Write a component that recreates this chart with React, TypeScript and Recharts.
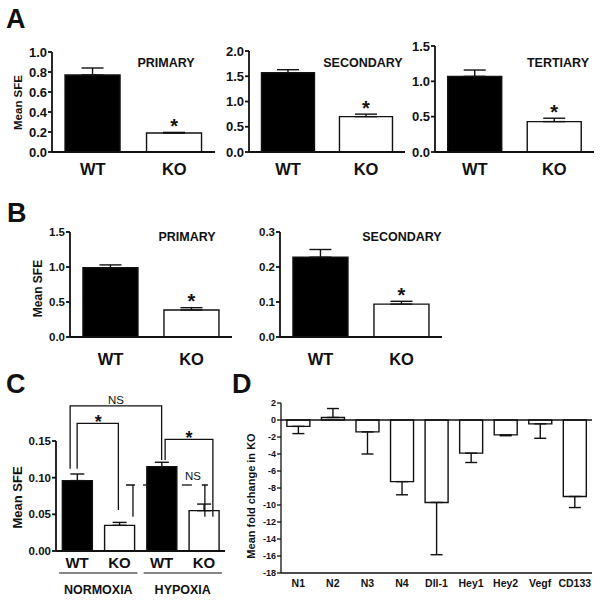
import { BarChart, Bar, XAxis, YAxis, ErrorBar, Cell, ReferenceLine, ReferenceDot } from 'recharts'

const FONT = '"Liberation Sans", Arial, Helvetica, sans-serif'
const INK = '#111111'

// A / B: WT vs KO sphere forming efficiency
const genotypes = ['WT', 'KO']
const genotypeFill = ['#000000', '#ffffff']
const genotypeStar = ['', '*']

const aPrimaryMean = [0.77, 0.19]
const aPrimaryErr = [0.07, 0.006]
const aPrimaryTicks = [0, 0.2, 0.4, 0.6, 0.8, 1.0]
const aSecondaryMean = [1.57, 0.7]
const aSecondaryErr = [0.06, 0.05]
const aSecondaryTicks = [0, 0.5, 1.0, 1.5, 2.0]
const aTertiaryMean = [1.07, 0.43]
const aTertiaryErr = [0.09, 0.048]
const aTertiaryTicks = [0, 0.5, 1.0, 1.5]

const bPrimaryMean = [0.99, 0.386]
const bPrimaryErr = [0.04, 0.033]
const bPrimaryTicks = [0, 0.5, 1.0, 1.5]
const bSecondaryMean = [0.228, 0.094]
const bSecondaryErr = [0.022, 0.008]
const bSecondaryTicks = [0, 0.1, 0.2, 0.3]

// C: normoxia / hypoxia
const cGroups = ['WT', 'KO', 'WT', 'KO']
const cConditions = ['NORMOXIA', 'HYPOXIA']
const cMean = [0.096, 0.035, 0.115, 0.055]
const cErr = [0.009, 0.004, 0.006, 0.009]
const cFill = ['#000000', '#ffffff', '#000000', '#ffffff']
const cTicks = [0, 0.05, 0.1, 0.15]

// D: fold change in KO
const genes = ['N1', 'N2', 'N3', 'N4', 'Dll-1', 'Hey1', 'Hey2', 'Vegf', 'CD133']
const foldMean = [-0.75, 0.3, -1.4, -7.25, -9.7, -3.9, -1.75, -0.45, -9.0]
const foldErr = [0.85, 1.05, 2.6, 1.55, 6.15, 1.1, 0.1, 1.7, 1.3]
const foldTicks = [2, 0, -2, -4, -6, -8, -10, -12, -14, -16, -18]

type Row = { g: string; v: number; e: [number, number]; fill: string; star: string }

// error bars only point away from zero, like the original
const oneSided = (v: number, e: number): [number, number] => (v >= 0 ? [0, e] : [e, 0])

const twoGroup = (mean: number[], err: number[]): Row[] =>
  genotypes.map((g, i) => ({ g, v: mean[i], e: oneSided(mean[i], err[i]), fill: genotypeFill[i], star: genotypeStar[i] }))

const cRows: Row[] = cGroups.map((g, i) => ({ g, v: cMean[i], e: oneSided(cMean[i], cErr[i]), fill: cFill[i], star: '' }))
const dRows: Row[] = genes.map((g, i) => ({ g, v: foldMean[i], e: oneSided(foldMean[i], foldErr[i]), fill: '#ffffff', star: '' }))

type Plot = [number, number, number, number] // left, top, right, bottom of plot area on the page

type PanelProps = {
  plot: Plot
  rows: Row[]
  domain: [number, number]
  ticks: number[]
  digits: number
  yw?: number
  tickFont: number
  xFont: number
  xOffset: number
  cap: number
  gap: string
  axisW?: number
  zero?: boolean
}

function Panel({ plot, rows, domain, ticks, digits, yw = 40, tickFont, xFont, xOffset, cap, gap, axisW = 1.8, zero = false }: PanelProps) {
  const [l, t, r, b] = plot
  const mt = 12
  const xh = 36
  const width = yw + (r - l) + 4
  const height = b - t + mt + xh
  const stars = rows.filter((row) => row.star)
  return (
    <div style={{ position: 'absolute', left: l - yw, top: t - mt }}>
      <BarChart width={width} height={height} data={rows} margin={{ top: mt, right: 4, bottom: 0, left: 0 }} barCategoryGap={gap}>
        <XAxis
          dataKey="g"
          interval={0}
          tickLine={false}
          tickSize={0}
          tickMargin={0}
          height={xh}
          axisLine={{ stroke: INK, strokeWidth: axisW }}
          tick={(p: any) => (
            <text x={p.x} y={p.y + xOffset} textAnchor="middle" fontFamily={FONT} fontWeight="bold" fontSize={xFont} fill={INK}>
              {p.payload.value}
            </text>
          )}
        />
        <YAxis
          width={yw}
          domain={domain}
          ticks={ticks}
          interval={0}
          tickSize={4}
          tickMargin={1}
          tickFormatter={(v: number) => v.toFixed(digits)}
          axisLine={{ stroke: INK, strokeWidth: axisW }}
          tickLine={{ stroke: INK, strokeWidth: axisW }}
          tick={{ fontSize: tickFont, fontWeight: 'bold', fill: INK, fontFamily: FONT }}
        />
        {zero && <ReferenceLine y={0} stroke={INK} strokeWidth={1.4} />}
        <Bar dataKey="v" isAnimationActive={false} stroke={INK} strokeWidth={1.4}>
          {rows.map((row, i) => (
            <Cell key={i} fill={row.fill} />
          ))}
          <ErrorBar dataKey="e" width={cap} stroke={INK} strokeWidth={1.4} direction="y" />
        </Bar>
        {stars.map((row) => (
          <ReferenceDot
            key={row.g}
            x={row.g}
            y={row.v + row.e[1]}
            r={0}
            shape={(p: any) => (
              <text x={p.cx} y={p.cy + 0.5} textAnchor="middle" fontFamily={FONT} fontWeight="bold" fontSize={20} fill={INK}>
                {row.star}
              </text>
            )}
          />
        ))}
      </BarChart>
    </div>
  )
}

const cPlot: Plot = [56, 441, 225, 551]
const cDomain: [number, number] = [0, 0.15]

function Overlay() {
  const [l, t, r, b] = cPlot
  const band = (r - l) / cGroups.length
  const cx = (i: number) => l + (i + 0.5) * band
  const cy = (v: number) => b - (v / cDomain[1]) * (b - t)
  const bold = { fontFamily: FONT, fontWeight: 'bold' as const, fill: INK }
  const line = { stroke: INK, strokeWidth: 1.3, fill: 'none' }
  const rot = (x: number, y: number) => `translate(${x},${y}) rotate(-90)`
  const dashY = cy(0.09)
  return (
    <svg width={600} height={604} style={{ position: 'absolute', left: 0, top: 0, pointerEvents: 'none' }}>
      <text x={6} y={28} fontSize={27} {...bold}>A</text>
      <text x={7} y={222} fontSize={27} {...bold}>B</text>
      <text x={6} y={393} fontSize={27} {...bold}>C</text>
      <text x={232} y={393} fontSize={27} {...bold}>D</text>

      <text transform={rot(21.5, 102.5)} textAnchor="middle" fontSize={11.5} {...bold}>Mean  SFE</text>
      <text transform={rot(42, 288.5)} textAnchor="middle" fontSize={12} {...bold}>Mean  SFE</text>
      <text transform={rot(22, 497.5)} textAnchor="middle" fontSize={13} {...bold}>Mean  SFE</text>
      <text transform={rot(255, 496)} textAnchor="middle" fontSize={11} {...bold}>Mean fold change in KO</text>

      <text x={166} y={67} textAnchor="middle" fontSize={12.5} {...bold}>PRIMARY</text>
      <text x={363} y={67} textAnchor="middle" fontSize={12.5} {...bold}>SECONDARY</text>
      <text x={558} y={67} textAnchor="middle" fontSize={12.5} {...bold}>TERTIARY</text>
      <text x={187} y={241} textAnchor="middle" fontSize={12.5} {...bold}>PRIMARY</text>
      <text x={402} y={241} textAnchor="middle" fontSize={12.5} {...bold}>SECONDARY</text>

      {cConditions.map((c, k) => (
        <g key={c}>
          <line x1={cx(2 * k) - 18} x2={cx(2 * k + 1) + 18} y1={573} y2={573} stroke={INK} strokeWidth={1.2} />
          <text x={(cx(2 * k) + cx(2 * k + 1)) / 2} y={594} textAnchor="middle" fontSize={12.5} {...bold}>{c}</text>
        </g>
      ))}

      {/* WT normoxia vs WT hypoxia */}
      <path d={`M${cx(0) - 7},${cy(0.112)} V${cy(0.198)} H${cx(2)} V${cy(0.124)}`} {...line} />
      <text x={(cx(0) - 7 + cx(2)) / 2} y={cy(0.198) - 2} textAnchor="middle" fontFamily={FONT} fontSize={11.5} fill={INK}>NS</text>
      {/* WT vs KO, normoxia */}
      <path d={`M${cx(0)},${cy(0.112)} V${cy(0.174)} H${cx(1) - 1} V${cy(0.056)}`} {...line} />
      <text x={(cx(0) + cx(1)) / 2} y={cy(0.174) + 5} textAnchor="middle" fontSize={18} {...bold}>*</text>
      {/* WT vs KO, hypoxia */}
      <path d={`M${cx(2) + 3.5},${cy(0.124)} V${cy(0.1523)} H${cx(3) + 9} V${cy(0.0466)}`} {...line} />
      <text x={(cx(2) + 3.5 + cx(3) + 9) / 2} y={cy(0.1523) + 5} textAnchor="middle" fontSize={18} {...bold}>*</text>
      {/* KO normoxia vs KO hypoxia */}
      <path d={`M${cx(1) + 6.6},${dashY} H${cx(1) + 15.6} M${cx(1) + 13.6},${dashY} V${cy(0.0466)}`} {...line} />
      <path d={`M${cx(2) - 18.6},${dashY} H${cx(2) - 12.6}`} {...line} />
      <path d={`M${cx(3) - 22},${dashY} H${cx(3) - 12}`} {...line} />
      <path d={`M${cx(3) - 2},${dashY} H${cx(3) + 4} M${cx(3) + 1},${dashY} V${cy(0.0466)}`} {...line} />
      <text x={cx(3) - 11} y={dashY - 5} textAnchor="middle" fontFamily={FONT} fontSize={11.5} fill={INK}>NS</text>
    </svg>
  )
}

export default function App() {
  return (
    <div style={{ position: 'absolute', left: 0, top: 0, width: 600, height: 604, background: '#fff', fontFamily: FONT }}>
      <Panel plot={[52, 52, 215, 152]} rows={twoGroup(aPrimaryMean, aPrimaryErr)} domain={[0, 1]} ticks={aPrimaryTicks} digits={1} tickFont={13} xFont={16.5} xOffset={23} cap={11} gap="16%" />
      <Panel plot={[249, 51, 405, 152]} rows={twoGroup(aSecondaryMean, aSecondaryErr)} domain={[0, 2]} ticks={aSecondaryTicks} digits={1} tickFont={13} xFont={16.5} xOffset={23} cap={11} gap="16%" />
      <Panel plot={[435, 46, 594, 152]} rows={twoGroup(aTertiaryMean, aTertiaryErr)} domain={[0, 1.5]} ticks={aTertiaryTicks} digits={1} tickFont={13} xFont={16.5} xOffset={23} cap={11} gap="16%" />
      <Panel plot={[70, 232, 232, 337]} rows={twoGroup(bPrimaryMean, bPrimaryErr)} domain={[0, 1.5]} ticks={bPrimaryTicks} digits={1} tickFont={11.5} xFont={16.5} xOffset={28} cap={11} gap="16%" />
      <Panel plot={[280, 232, 442, 337]} rows={twoGroup(bSecondaryMean, bSecondaryErr)} domain={[0, 0.3]} ticks={bSecondaryTicks} digits={1} tickFont={11.5} xFont={16.5} xOffset={28} cap={11} gap="16%" />
      <Panel plot={cPlot} rows={cRows} domain={cDomain} ticks={cTicks} digits={2} tickFont={11.5} xFont={15} xOffset={17} cap={7} gap="15%" />
      <Panel plot={[281, 403, 592, 573]} rows={dRows} domain={[-18, 2]} ticks={foldTicks} digits={0} yw={28} tickFont={9} xFont={10.5} xOffset={14} cap={6} gap="17%" axisW={1.3} zero />
      <Overlay />
    </div>
  )
}
